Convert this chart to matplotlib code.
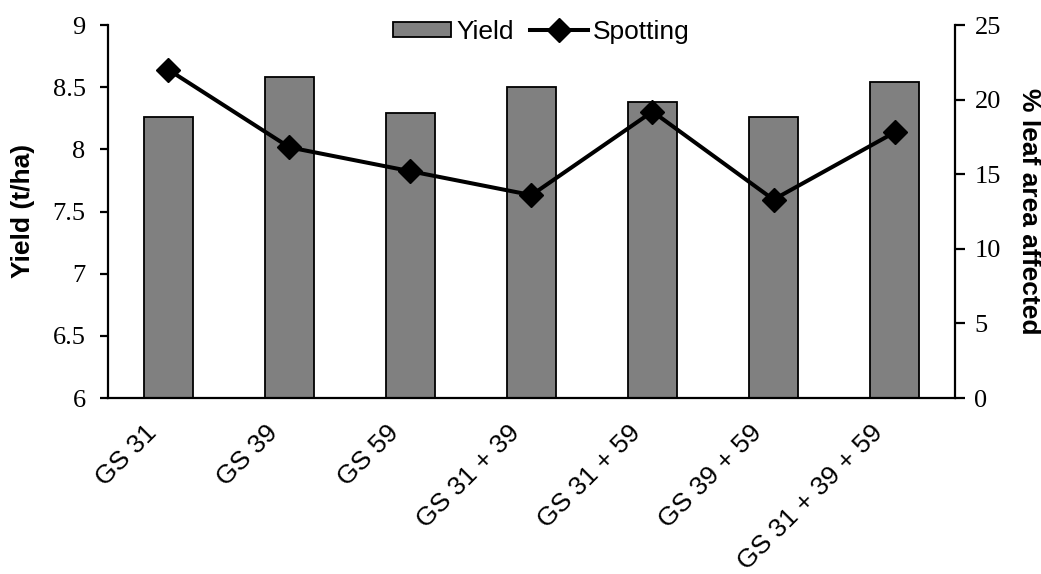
import matplotlib.pyplot as plt
import matplotlib.transforms as mtransforms
import numpy as np

categories = ["GS 31", "GS 39", "GS 59", "GS 31 + 39", "GS 31 + 59",
              "GS 39 + 59", "GS 31 + 39 + 59"]
yield_t_ha = [8.26, 8.58, 8.29, 8.50, 8.38, 8.26, 8.54]
spotting_pct = [22.0, 16.8, 15.2, 13.6, 19.2, 13.3, 17.8]

SERIF = "Liberation Serif"
SANS = "Liberation Sans"


def style_axes(fig, ax, ax2):
    for a in (ax, ax2):
        a.spines["top"].set_visible(False)
        for side in ("left", "right", "bottom"):
            a.spines[side].set_linewidth(1.6)
            a.spines[side].set_color("black")
    ax.spines["right"].set_visible(False)
    ax2.spines["left"].set_visible(False)
    ax2.spines["bottom"].set_visible(False)
    ax.tick_params(axis="y", direction="out", length=6, width=1.6,
                   labelsize=19, pad=10)
    ax2.tick_params(axis="y", direction="out", length=7, width=1.6,
                    labelsize=19, pad=7)
    ax.tick_params(axis="x", length=0, labelsize=19, pad=16)
    for lab in ax.get_yticklabels() + ax2.get_yticklabels():
        lab.set_fontfamily(SERIF)
    # nudge the slanted category labels to the left of their slots
    shift = mtransforms.ScaledTranslation(-24 / 100, 0, fig.dpi_scale_trans)
    for lab in ax.get_xticklabels():
        lab.set_fontfamily(SANS)
        lab.set_transform(lab.get_transform() + shift)


fig = plt.figure(figsize=(10.41, 5.74), dpi=100)
ax = fig.add_axes([0.1037, 0.3066, 0.8137, 0.6498])
ax2 = ax.twinx()

x = np.arange(len(categories))
bars = ax.bar(x, yield_t_ha, width=0.4, color="#808080", edgecolor="black",
              linewidth=1.3, label="Yield")
line, = ax2.plot(x, spotting_pct, color="black", linewidth=2.9, marker="D",
                 markersize=12, label="Spotting")

ax.set_xlim(-0.5, len(categories) - 0.5)
ax.set_ylim(6, 9)
ax.set_yticks([6, 6.5, 7, 7.5, 8, 8.5, 9])
ax.set_yticklabels(["6", "6.5", "7", "7.5", "8", "8.5", "9"])
ax2.set_ylim(0, 25)
ax2.set_yticks([0, 5, 10, 15, 20, 25])

ax.set_xticks(x)
ax.set_xticklabels(categories, rotation=45, ha="right", va="top",
                   rotation_mode="anchor")

style_axes(fig, ax, ax2)

# axis titles placed in figure pixels
fig.text(23 / 1041, 1 - 211 / 574, "Yield (t/ha)", rotation=90, ha="center",
         va="center", fontsize=19, fontweight="bold", family=SANS)
fig.text(1029 / 1041, 1 - 211 / 574, "% leaf area affected", rotation=270,
         ha="center", va="center", fontsize=19, fontweight="bold",
         family=SANS)

fig.legend(handles=[bars, line], labels=["Yield", "Spotting"],
           loc="center", bbox_to_anchor=(0.52, 0.945), ncol=2, frameon=False,
           prop={"family": SANS, "size": 19}, handlelength=2.2,
           handleheight=0.5, handletextpad=0.2, columnspacing=0.6,
           borderaxespad=0)

fig.savefig("out.png", dpi=100)
